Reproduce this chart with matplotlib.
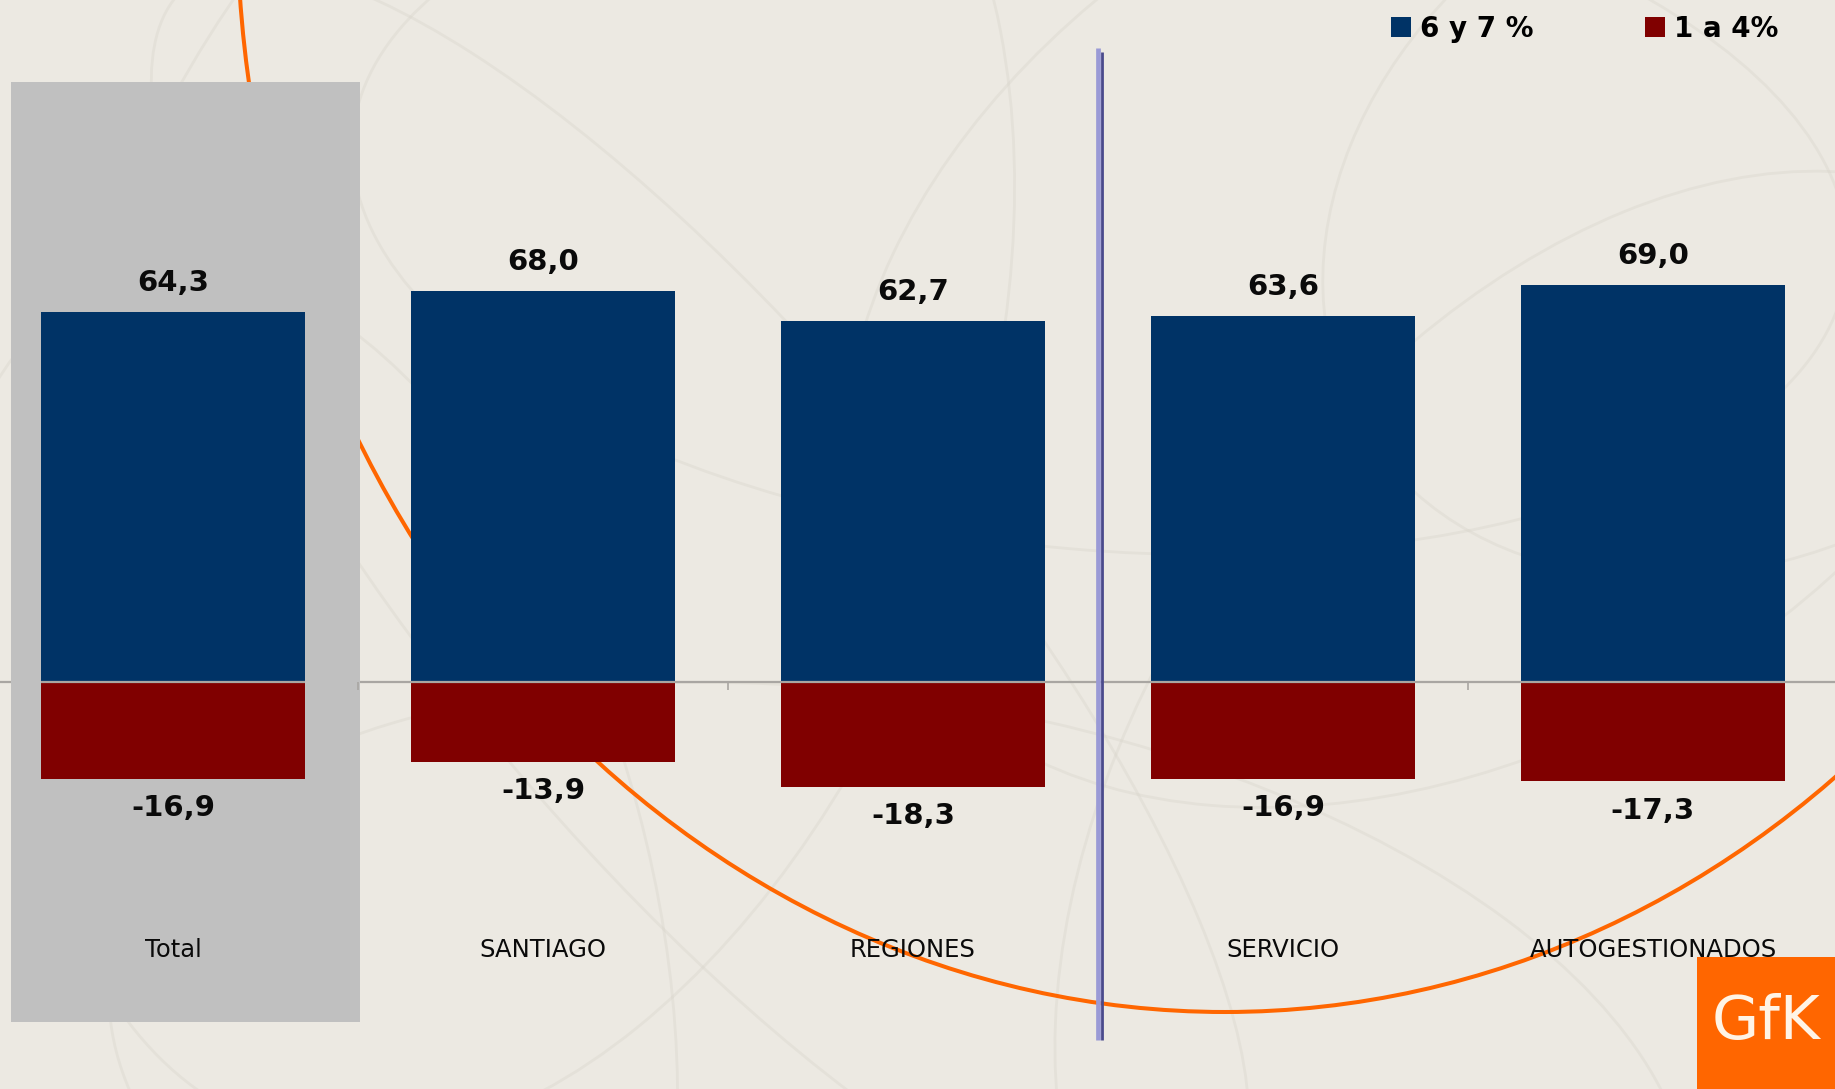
import matplotlib
matplotlib.use("Agg")
import matplotlib.pyplot as plt
from matplotlib.patches import Rectangle, Ellipse, Patch

# --- data -------------------------------------------------------------
categories = ["Total", "SANTIAGO", "REGIONES", "SERVICIO", "AUTOGESTIONADOS"]
top_box = [64.3, 68.0, 62.7, 63.6, 69.0]        # notas 6 y 7
bottom_box = [-16.9, -13.9, -18.3, -16.9, -17.3]  # notas 1 a 4
series_names = ["6 y 7 %", "1 a 4%"]

BLUE = "#003366"
RED = "#800000"
BG = "#ECE9E2"

W, H = 1835, 1089
fig = plt.figure(figsize=(W / 100, H / 100), dpi=100)
fig.patch.set_facecolor(BG)

# layout in pixels: category pitch, zero line, pixels per unit
X0, PITCH = 173.0, 370.0
Y0, PPU = 682.0, 5.75


def px2x(px):
    return (px - X0) / PITCH


def px2y(py):
    return (Y0 - py) / PPU


# --- background layer (pixel coordinates) ------------------------------
bg = fig.add_axes([0, 0, 1, 1], zorder=0)
bg.set_xlim(0, W)
bg.set_ylim(H, 0)
bg.axis("off")
bg.set_facecolor(BG)

# faint textured loops
loops = [
    (520, 420, 900, 1500, 20), (1450, 300, 1300, 900, -30),
    (900, 1100, 1600, 800, 10), (300, 900, 700, 1300, -15),
    (1600, 800, 900, 1400, 35), (1100, 200, 1500, 700, 5),
    (700, 600, 500, 1600, -40), (1750, 200, 700, 900, 60),
]
for cx, cy, w, h, ang in loops:
    bg.add_patch(Ellipse((cx, cy), w, h, angle=ang, fill=False,
                         ec="#d9d5cc", lw=2.0, alpha=0.4))

# large orange ring
bg.add_patch(Ellipse((1225, -88), 2 * 988, 2 * 1100, fill=False,
                     ec="#FF6600", lw=2.9, zorder=2))

# grey highlight panel behind "Total"
bg.add_patch(Rectangle((11, 82), 349, 940, fc="#C0C0C0", ec="none", zorder=3))

# --- chart layer -------------------------------------------------------
ax = fig.add_axes([0, 0, 1, 1], zorder=1)
ax.set_facecolor("none")
ax.set_xlim(px2x(0), px2x(W))
ax.set_ylim(px2y(H), px2y(0))
ax.axis("off")

x = list(range(len(categories)))
bw = 264 / PITCH
ax.bar(x, top_box, width=bw, color=BLUE, zorder=2, label=series_names[0])
ax.bar(x, bottom_box, width=bw, color=RED, zorder=2, label=series_names[1])

# zero line (hidden where the grey panel is, except across the bar)
zc = "#a9a6a2"
ax.hlines(0, px2x(0), px2x(11), color=zc, lw=1.6, zorder=3)
ax.hlines(0, px2x(360), px2x(W), color=zc, lw=1.6, zorder=3)
ax.hlines(0, -bw / 2, bw / 2, color=zc, lw=1.6, zorder=3)
for b in [0.5, 1.5, 3.5]:
    ax.vlines(b, px2y(690), 0, color=zc, lw=1.2, zorder=3)

# vertical separator between groups
ax.vlines(px2x(1098), px2y(48), px2y(1040), color="#9a9ad6", lw=3.4, zorder=4)
ax.vlines(px2x(1102), px2y(52), px2y(1040), color="#4a4a8c", lw=2.0, zorder=4)


def fmt(v):
    return f"{v:.1f}".replace(".", ",")


lab_kw = dict(ha="center", va="center", fontsize=21, fontweight="bold",
              color="#0a0a0a", textcoords="offset points", zorder=5)
for xi, v in zip(x, top_box):
    ax.annotate(fmt(v), (xi, v), xytext=(0, 21), **lab_kw)
for xi, v in zip(x, bottom_box):
    ax.annotate(fmt(v), (xi, v), xytext=(0, -21), **lab_kw)

for xi, c in zip(x, categories):
    ax.text(xi, px2y(950), c, ha="center", va="center", fontsize=17.5,
            color="#0a0a0a", zorder=5)

handles = [Patch(fc=BLUE, ec="none"), Patch(fc=RED, ec="none")]
ax.legend(handles, series_names, loc="upper left",
          bbox_to_anchor=(1391 / W, 1 - 15 / H), bbox_transform=fig.transFigure,
          ncol=2, frameon=False, borderpad=0, borderaxespad=0,
          prop={"weight": "bold", "size": 20},
          handlelength=0.72, handleheight=0.72, handletextpad=0.33,
          columnspacing=4.0)

# logo block
logo = fig.add_axes([1697 / W, 0, (W - 1697) / W, (H - 957) / H], zorder=2)
logo.set_facecolor("#FF6600")
logo.set_xticks([])
logo.set_yticks([])
for s in logo.spines.values():
    s.set_visible(False)
logo.text(0.5, 0.5, "GfK", ha="center", va="center", fontsize=44,
          color="#FFF4E6", transform=logo.transAxes)

fig.savefig("out.png", dpi=100, facecolor=BG)
